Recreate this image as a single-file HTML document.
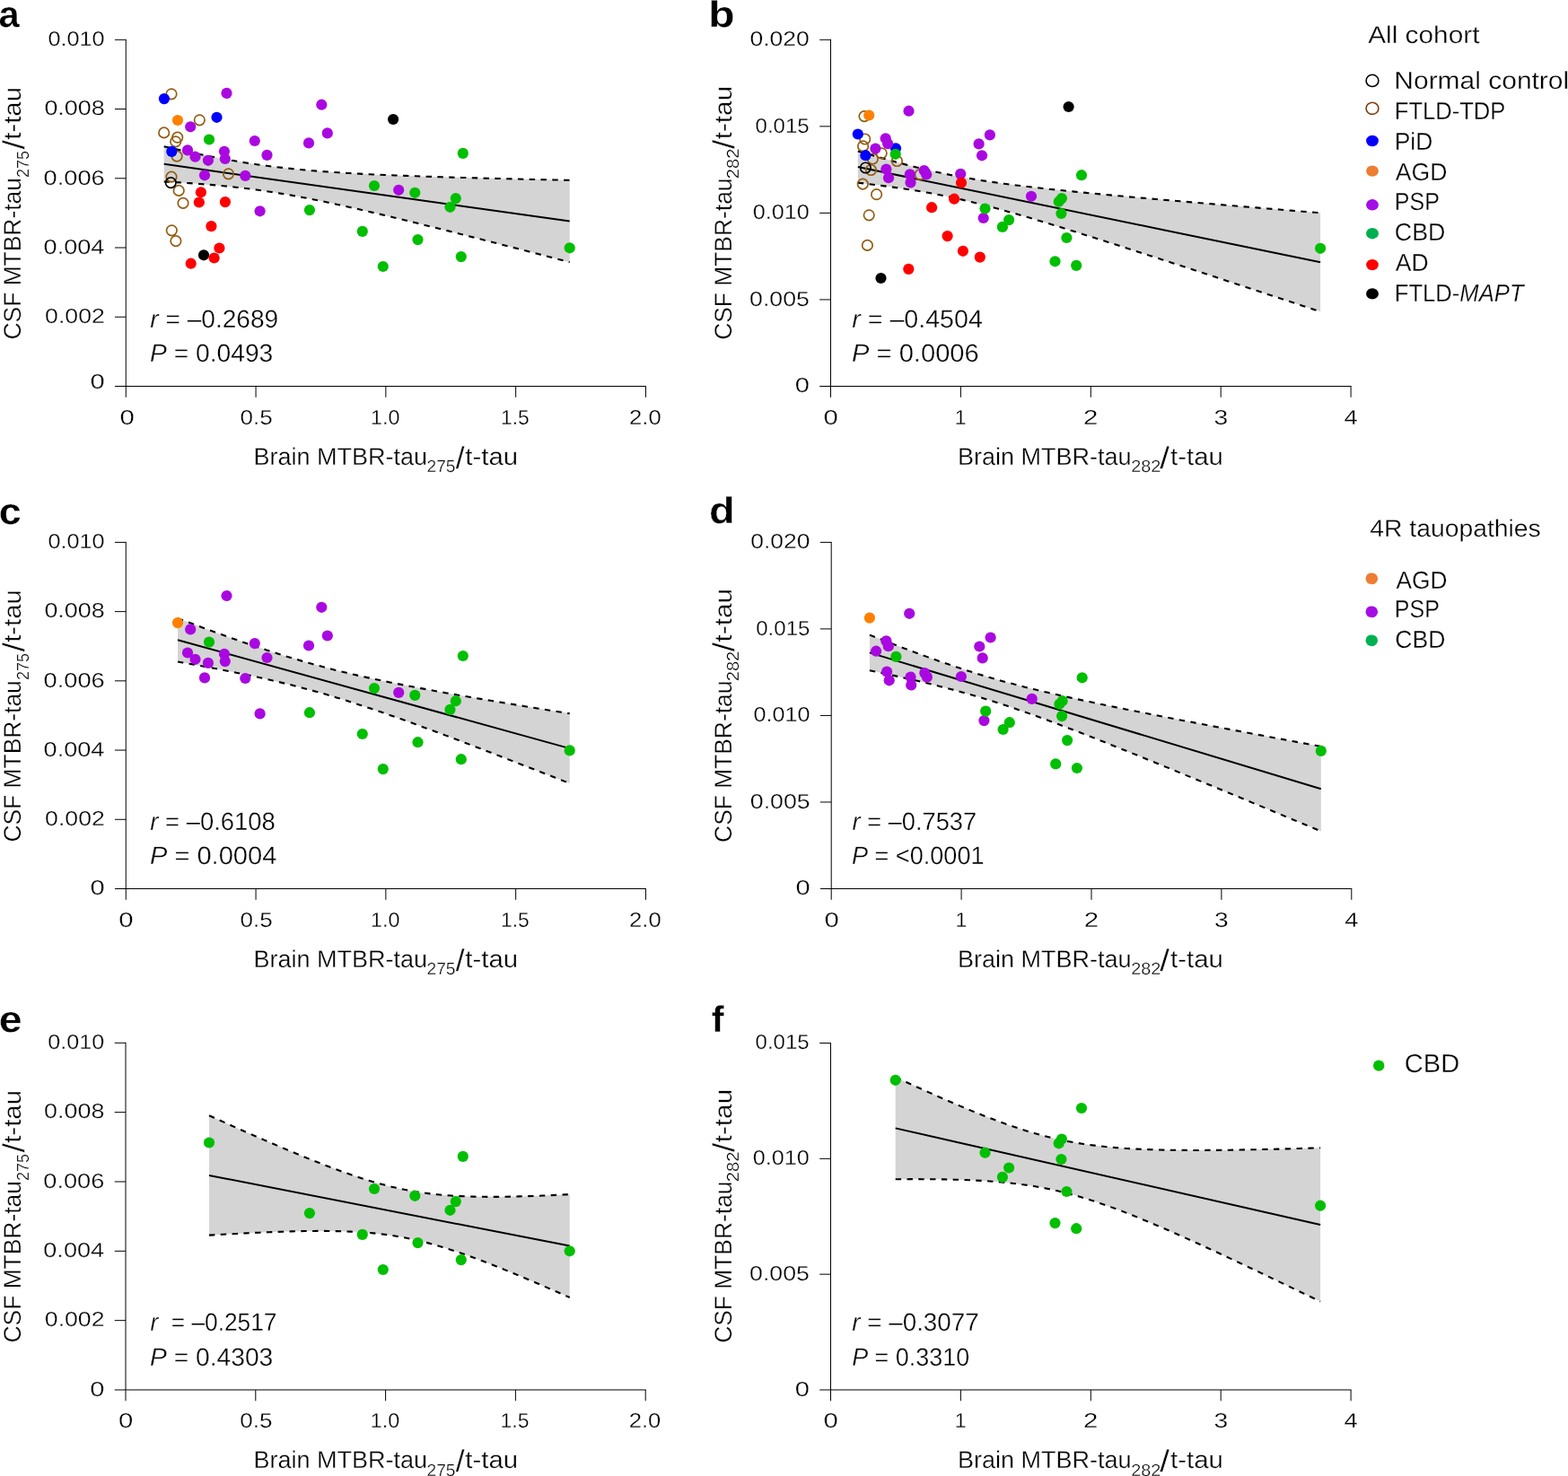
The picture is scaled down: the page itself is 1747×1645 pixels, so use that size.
<!DOCTYPE html>
<html><head><meta charset="utf-8"><title>Figure</title>
<style>html,body{margin:0;padding:0;background:#fff;overflow:hidden;}svg{display:block;}</style>
</head><body>
<svg width="1747" height="1645" viewBox="0 0 1747 1645">
<rect width="1747" height="1645" fill="#fff"/>
<line x1="127.95" y1="353.26" x2="140.25" y2="353.26" stroke="#000" stroke-width="1.0"/>
<line x1="127.95" y1="276.02" x2="140.25" y2="276.02" stroke="#000" stroke-width="1.0"/>
<line x1="127.95" y1="198.78" x2="140.25" y2="198.78" stroke="#000" stroke-width="1.0"/>
<line x1="127.95" y1="121.54" x2="140.25" y2="121.54" stroke="#000" stroke-width="1.0"/>
<line x1="127.95" y1="44.30" x2="140.25" y2="44.30" stroke="#000" stroke-width="1.0"/>
<line x1="285.05" y1="430.50" x2="285.05" y2="442.80" stroke="#000" stroke-width="1.0"/>
<line x1="429.85" y1="430.50" x2="429.85" y2="442.80" stroke="#000" stroke-width="1.0"/>
<line x1="574.65" y1="430.50" x2="574.65" y2="442.80" stroke="#000" stroke-width="1.0"/>
<line x1="719.45" y1="430.50" x2="719.45" y2="442.80" stroke="#000" stroke-width="1.0"/>
<line x1="140.25" y1="43.80" x2="140.25" y2="442.80" stroke="#000" stroke-width="1.0"/>
<line x1="127.95" y1="430.50" x2="719.90" y2="430.50" stroke="#000" stroke-width="1.05"/>
<line x1="913.20" y1="333.95" x2="925.50" y2="333.95" stroke="#000" stroke-width="1.0"/>
<line x1="913.20" y1="237.40" x2="925.50" y2="237.40" stroke="#000" stroke-width="1.0"/>
<line x1="913.20" y1="140.85" x2="925.50" y2="140.85" stroke="#000" stroke-width="1.0"/>
<line x1="913.20" y1="44.30" x2="925.50" y2="44.30" stroke="#000" stroke-width="1.0"/>
<line x1="1070.40" y1="430.50" x2="1070.40" y2="442.80" stroke="#000" stroke-width="1.0"/>
<line x1="1215.30" y1="430.50" x2="1215.30" y2="442.80" stroke="#000" stroke-width="1.0"/>
<line x1="1360.20" y1="430.50" x2="1360.20" y2="442.80" stroke="#000" stroke-width="1.0"/>
<line x1="1505.10" y1="430.50" x2="1505.10" y2="442.80" stroke="#000" stroke-width="1.0"/>
<line x1="925.50" y1="43.80" x2="925.50" y2="442.80" stroke="#000" stroke-width="1.0"/>
<line x1="913.20" y1="430.50" x2="1505.60" y2="430.50" stroke="#000" stroke-width="1.05"/>
<line x1="127.95" y1="913.28" x2="140.25" y2="913.28" stroke="#000" stroke-width="1.0"/>
<line x1="127.95" y1="836.06" x2="140.25" y2="836.06" stroke="#000" stroke-width="1.0"/>
<line x1="127.95" y1="758.84" x2="140.25" y2="758.84" stroke="#000" stroke-width="1.0"/>
<line x1="127.95" y1="681.62" x2="140.25" y2="681.62" stroke="#000" stroke-width="1.0"/>
<line x1="127.95" y1="604.40" x2="140.25" y2="604.40" stroke="#000" stroke-width="1.0"/>
<line x1="285.05" y1="990.50" x2="285.05" y2="1002.80" stroke="#000" stroke-width="1.0"/>
<line x1="429.85" y1="990.50" x2="429.85" y2="1002.80" stroke="#000" stroke-width="1.0"/>
<line x1="574.65" y1="990.50" x2="574.65" y2="1002.80" stroke="#000" stroke-width="1.0"/>
<line x1="719.45" y1="990.50" x2="719.45" y2="1002.80" stroke="#000" stroke-width="1.0"/>
<line x1="140.25" y1="603.90" x2="140.25" y2="1002.80" stroke="#000" stroke-width="1.0"/>
<line x1="127.95" y1="990.50" x2="719.90" y2="990.50" stroke="#000" stroke-width="1.05"/>
<line x1="913.90" y1="893.98" x2="926.20" y2="893.98" stroke="#000" stroke-width="1.0"/>
<line x1="913.90" y1="797.45" x2="926.20" y2="797.45" stroke="#000" stroke-width="1.0"/>
<line x1="913.90" y1="700.92" x2="926.20" y2="700.92" stroke="#000" stroke-width="1.0"/>
<line x1="913.90" y1="604.40" x2="926.20" y2="604.40" stroke="#000" stroke-width="1.0"/>
<line x1="1071.10" y1="990.50" x2="1071.10" y2="1002.80" stroke="#000" stroke-width="1.0"/>
<line x1="1216.00" y1="990.50" x2="1216.00" y2="1002.80" stroke="#000" stroke-width="1.0"/>
<line x1="1360.90" y1="990.50" x2="1360.90" y2="1002.80" stroke="#000" stroke-width="1.0"/>
<line x1="1505.80" y1="990.50" x2="1505.80" y2="1002.80" stroke="#000" stroke-width="1.0"/>
<line x1="926.20" y1="603.90" x2="926.20" y2="1002.80" stroke="#000" stroke-width="1.0"/>
<line x1="913.90" y1="990.50" x2="1506.20" y2="990.50" stroke="#000" stroke-width="1.05"/>
<line x1="127.70" y1="1471.66" x2="140.00" y2="1471.66" stroke="#000" stroke-width="1.0"/>
<line x1="127.70" y1="1394.32" x2="140.00" y2="1394.32" stroke="#000" stroke-width="1.0"/>
<line x1="127.70" y1="1316.98" x2="140.00" y2="1316.98" stroke="#000" stroke-width="1.0"/>
<line x1="127.70" y1="1239.64" x2="140.00" y2="1239.64" stroke="#000" stroke-width="1.0"/>
<line x1="127.70" y1="1162.30" x2="140.00" y2="1162.30" stroke="#000" stroke-width="1.0"/>
<line x1="284.80" y1="1549.00" x2="284.80" y2="1561.30" stroke="#000" stroke-width="1.0"/>
<line x1="429.60" y1="1549.00" x2="429.60" y2="1561.30" stroke="#000" stroke-width="1.0"/>
<line x1="574.40" y1="1549.00" x2="574.40" y2="1561.30" stroke="#000" stroke-width="1.0"/>
<line x1="719.20" y1="1549.00" x2="719.20" y2="1561.30" stroke="#000" stroke-width="1.0"/>
<line x1="140.00" y1="1161.80" x2="140.00" y2="1561.30" stroke="#000" stroke-width="1.0"/>
<line x1="127.70" y1="1549.00" x2="719.90" y2="1549.00" stroke="#000" stroke-width="1.05"/>
<line x1="913.20" y1="1420.17" x2="925.50" y2="1420.17" stroke="#000" stroke-width="1.0"/>
<line x1="913.20" y1="1291.33" x2="925.50" y2="1291.33" stroke="#000" stroke-width="1.0"/>
<line x1="913.20" y1="1162.50" x2="925.50" y2="1162.50" stroke="#000" stroke-width="1.0"/>
<line x1="1070.40" y1="1549.00" x2="1070.40" y2="1561.30" stroke="#000" stroke-width="1.0"/>
<line x1="1215.30" y1="1549.00" x2="1215.30" y2="1561.30" stroke="#000" stroke-width="1.0"/>
<line x1="1360.20" y1="1549.00" x2="1360.20" y2="1561.30" stroke="#000" stroke-width="1.0"/>
<line x1="1505.10" y1="1549.00" x2="1505.10" y2="1561.30" stroke="#000" stroke-width="1.0"/>
<line x1="925.50" y1="1162.00" x2="925.50" y2="1561.30" stroke="#000" stroke-width="1.0"/>
<line x1="913.20" y1="1549.00" x2="1505.60" y2="1549.00" stroke="#000" stroke-width="1.05"/>
<polygon points="182.70,163.29 188.42,164.59 194.14,165.87 199.86,167.14 205.59,168.38 211.31,169.61 217.03,170.82 222.75,172.00 228.47,173.17 234.19,174.31 239.92,175.42 245.64,176.50 251.36,177.56 257.08,178.58 262.80,179.57 268.52,180.53 274.24,181.45 279.97,182.34 285.69,183.19 291.41,184.00 297.13,184.78 302.85,185.52 308.57,186.22 314.29,186.89 320.02,187.53 325.74,188.13 331.46,188.70 337.18,189.24 342.90,189.76 348.62,190.24 354.35,190.70 360.07,191.13 365.79,191.55 371.51,191.94 377.23,192.31 382.95,192.67 388.67,193.01 394.40,193.33 400.12,193.64 405.84,193.93 411.56,194.21 417.28,194.48 423.00,194.74 428.73,194.99 434.45,195.23 440.17,195.47 445.89,195.69 451.61,195.91 457.33,196.12 463.05,196.32 468.78,196.52 474.50,196.71 480.22,196.90 485.94,197.08 491.66,197.26 497.38,197.44 503.11,197.61 508.83,197.77 514.55,197.93 520.27,198.09 525.99,198.25 531.71,198.40 537.43,198.55 543.16,198.70 548.88,198.85 554.60,198.99 560.32,199.13 566.04,199.27 571.76,199.41 577.48,199.54 583.21,199.68 588.93,199.81 594.65,199.94 600.37,200.07 606.09,200.20 611.81,200.32 617.54,200.45 623.26,200.57 628.98,200.69 634.70,200.81 634.70,292.18 628.98,290.69 623.26,289.20 617.54,287.71 611.81,286.22 606.09,284.74 600.37,283.25 594.65,281.77 588.93,280.29 583.21,278.81 577.48,277.33 571.76,275.86 566.04,274.39 560.32,272.91 554.60,271.44 548.88,269.98 543.16,268.51 537.43,267.05 531.71,265.59 525.99,264.13 520.27,262.68 514.55,261.22 508.83,259.78 503.11,258.33 497.38,256.89 491.66,255.45 485.94,254.02 480.22,252.59 474.50,251.17 468.78,249.75 463.05,248.34 457.33,246.93 451.61,245.53 445.89,244.14 440.17,242.75 434.45,241.37 428.73,240.00 423.00,238.64 417.28,237.29 411.56,235.95 405.84,234.62 400.12,233.30 394.40,232.00 388.67,230.71 382.95,229.44 377.23,228.18 371.51,226.94 365.79,225.73 360.07,224.53 354.35,223.35 348.62,222.20 342.90,221.07 337.18,219.98 331.46,218.91 325.74,217.87 320.02,216.86 314.29,215.88 308.57,214.94 302.85,214.03 297.13,213.16 291.41,212.33 285.69,211.53 279.97,210.77 274.24,210.05 268.52,209.36 262.80,208.71 257.08,208.09 251.36,207.50 245.64,206.94 239.92,206.42 234.19,205.92 228.47,205.44 222.75,205.00 217.03,204.57 211.31,204.17 205.59,203.78 199.86,203.42 194.14,203.07 188.42,202.74 182.70,202.43" fill="#d4d4d4"/>
<polyline points="182.70,163.29 188.42,164.59 194.14,165.87 199.86,167.14 205.59,168.38 211.31,169.61 217.03,170.82 222.75,172.00 228.47,173.17 234.19,174.31 239.92,175.42 245.64,176.50 251.36,177.56 257.08,178.58 262.80,179.57 268.52,180.53 274.24,181.45 279.97,182.34 285.69,183.19 291.41,184.00 297.13,184.78 302.85,185.52 308.57,186.22 314.29,186.89 320.02,187.53 325.74,188.13 331.46,188.70 337.18,189.24 342.90,189.76 348.62,190.24 354.35,190.70 360.07,191.13 365.79,191.55 371.51,191.94 377.23,192.31 382.95,192.67 388.67,193.01 394.40,193.33 400.12,193.64 405.84,193.93 411.56,194.21 417.28,194.48 423.00,194.74 428.73,194.99 434.45,195.23 440.17,195.47 445.89,195.69 451.61,195.91 457.33,196.12 463.05,196.32 468.78,196.52 474.50,196.71 480.22,196.90 485.94,197.08 491.66,197.26 497.38,197.44 503.11,197.61 508.83,197.77 514.55,197.93 520.27,198.09 525.99,198.25 531.71,198.40 537.43,198.55 543.16,198.70 548.88,198.85 554.60,198.99 560.32,199.13 566.04,199.27 571.76,199.41 577.48,199.54 583.21,199.68 588.93,199.81 594.65,199.94 600.37,200.07 606.09,200.20 611.81,200.32 617.54,200.45 623.26,200.57 628.98,200.69 634.70,200.81" fill="none" stroke="#000" stroke-width="2.1" stroke-dasharray="6.4 6.4"/>
<polyline points="182.70,202.43 188.42,202.74 194.14,203.07 199.86,203.42 205.59,203.78 211.31,204.17 217.03,204.57 222.75,205.00 228.47,205.44 234.19,205.92 239.92,206.42 245.64,206.94 251.36,207.50 257.08,208.09 262.80,208.71 268.52,209.36 274.24,210.05 279.97,210.77 285.69,211.53 291.41,212.33 297.13,213.16 302.85,214.03 308.57,214.94 314.29,215.88 320.02,216.86 325.74,217.87 331.46,218.91 337.18,219.98 342.90,221.07 348.62,222.20 354.35,223.35 360.07,224.53 365.79,225.73 371.51,226.94 377.23,228.18 382.95,229.44 388.67,230.71 394.40,232.00 400.12,233.30 405.84,234.62 411.56,235.95 417.28,237.29 423.00,238.64 428.73,240.00 434.45,241.37 440.17,242.75 445.89,244.14 451.61,245.53 457.33,246.93 463.05,248.34 468.78,249.75 474.50,251.17 480.22,252.59 485.94,254.02 491.66,255.45 497.38,256.89 503.11,258.33 508.83,259.78 514.55,261.22 520.27,262.68 525.99,264.13 531.71,265.59 537.43,267.05 543.16,268.51 548.88,269.98 554.60,271.44 560.32,272.91 566.04,274.39 571.76,275.86 577.48,277.33 583.21,278.81 588.93,280.29 594.65,281.77 600.37,283.25 606.09,284.74 611.81,286.22 617.54,287.71 623.26,289.20 628.98,290.69 634.70,292.18" fill="none" stroke="#000" stroke-width="2.1" stroke-dasharray="6.4 6.4"/>
<line x1="182.70" y1="182.86" x2="634.70" y2="246.49" stroke="#000" stroke-width="2.0"/>
<circle cx="191.0" cy="104.8" r="5.75" fill="none" stroke="#925c12" stroke-width="1.70"/>
<circle cx="222.3" cy="133.8" r="5.75" fill="none" stroke="#925c12" stroke-width="1.70"/>
<circle cx="182.7" cy="147.9" r="5.75" fill="none" stroke="#925c12" stroke-width="1.70"/>
<circle cx="197.7" cy="153.2" r="5.75" fill="none" stroke="#925c12" stroke-width="1.70"/>
<circle cx="195.7" cy="157.8" r="5.75" fill="none" stroke="#925c12" stroke-width="1.70"/>
<circle cx="197.1" cy="174.1" r="5.75" fill="none" stroke="#925c12" stroke-width="1.70"/>
<circle cx="191.0" cy="197.1" r="5.75" fill="none" stroke="#925c12" stroke-width="1.70"/>
<circle cx="254.5" cy="193.8" r="5.75" fill="none" stroke="#925c12" stroke-width="1.70"/>
<circle cx="199.2" cy="212.4" r="5.75" fill="none" stroke="#925c12" stroke-width="1.70"/>
<circle cx="204.0" cy="226.4" r="5.75" fill="none" stroke="#925c12" stroke-width="1.70"/>
<circle cx="191.3" cy="256.8" r="5.75" fill="none" stroke="#925c12" stroke-width="1.70"/>
<circle cx="195.9" cy="268.6" r="5.75" fill="none" stroke="#925c12" stroke-width="1.70"/>
<circle cx="190.3" cy="203.6" r="5.75" fill="none" stroke="#000000" stroke-width="1.70"/>
<circle cx="182.9" cy="110.1" r="6.10" fill="#0000ff"/>
<circle cx="241.5" cy="130.8" r="6.10" fill="#0000ff"/>
<circle cx="191.3" cy="168.9" r="6.10" fill="#0000ff"/>
<circle cx="198.0" cy="134.0" r="6.10" fill="#ff8000"/>
<circle cx="252.5" cy="103.9" r="6.10" fill="#aa08e0"/>
<circle cx="212.2" cy="141.3" r="6.10" fill="#aa08e0"/>
<circle cx="283.8" cy="157.0" r="6.10" fill="#aa08e0"/>
<circle cx="209.0" cy="167.4" r="6.10" fill="#aa08e0"/>
<circle cx="217.5" cy="174.7" r="6.10" fill="#aa08e0"/>
<circle cx="231.9" cy="178.8" r="6.10" fill="#aa08e0"/>
<circle cx="249.9" cy="168.8" r="6.10" fill="#aa08e0"/>
<circle cx="250.8" cy="177.0" r="6.10" fill="#aa08e0"/>
<circle cx="297.5" cy="172.9" r="6.10" fill="#aa08e0"/>
<circle cx="228.0" cy="195.3" r="6.10" fill="#aa08e0"/>
<circle cx="273.3" cy="195.9" r="6.10" fill="#aa08e0"/>
<circle cx="289.6" cy="235.3" r="6.10" fill="#aa08e0"/>
<circle cx="358.3" cy="116.7" r="6.10" fill="#aa08e0"/>
<circle cx="364.8" cy="148.4" r="6.10" fill="#aa08e0"/>
<circle cx="344.0" cy="159.4" r="6.10" fill="#aa08e0"/>
<circle cx="444.2" cy="211.8" r="6.10" fill="#aa08e0"/>
<circle cx="233.0" cy="155.5" r="6.10" fill="#00bf00"/>
<circle cx="417.0" cy="207.0" r="6.10" fill="#00bf00"/>
<circle cx="462.3" cy="214.8" r="6.10" fill="#00bf00"/>
<circle cx="344.9" cy="234.1" r="6.10" fill="#00bf00"/>
<circle cx="403.8" cy="257.9" r="6.10" fill="#00bf00"/>
<circle cx="426.8" cy="297.0" r="6.10" fill="#00bf00"/>
<circle cx="515.8" cy="170.9" r="6.10" fill="#00bf00"/>
<circle cx="507.8" cy="221.1" r="6.10" fill="#00bf00"/>
<circle cx="501.5" cy="230.8" r="6.10" fill="#00bf00"/>
<circle cx="465.5" cy="267.1" r="6.10" fill="#00bf00"/>
<circle cx="513.8" cy="286.1" r="6.10" fill="#00bf00"/>
<circle cx="634.7" cy="276.3" r="6.10" fill="#00bf00"/>
<circle cx="438.1" cy="133.0" r="6.10" fill="#000000"/>
<circle cx="227.0" cy="284.3" r="6.10" fill="#000000"/>
<circle cx="223.9" cy="214.3" r="6.10" fill="#ff0000"/>
<circle cx="221.8" cy="225.5" r="6.10" fill="#ff0000"/>
<circle cx="250.9" cy="225.1" r="6.10" fill="#ff0000"/>
<circle cx="235.4" cy="252.1" r="6.10" fill="#ff0000"/>
<circle cx="244.4" cy="276.5" r="6.10" fill="#ff0000"/>
<circle cx="238.6" cy="287.5" r="6.10" fill="#ff0000"/>
<circle cx="212.7" cy="293.7" r="6.10" fill="#ff0000"/>
<polygon points="955.80,168.42 962.32,170.35 968.85,172.26 975.37,174.14 981.89,176.00 988.41,177.83 994.94,179.63 1001.46,181.40 1007.98,183.12 1014.51,184.80 1021.03,186.44 1027.55,188.03 1034.07,189.57 1040.60,191.05 1047.12,192.48 1053.64,193.85 1060.16,195.17 1066.69,196.43 1073.21,197.63 1079.73,198.78 1086.26,199.88 1092.78,200.94 1099.30,201.94 1105.82,202.91 1112.35,203.84 1118.87,204.73 1125.39,205.59 1131.92,206.42 1138.44,207.22 1144.96,208.00 1151.48,208.76 1158.01,209.50 1164.53,210.22 1171.05,210.92 1177.57,211.61 1184.10,212.29 1190.62,212.95 1197.14,213.61 1203.67,214.25 1210.19,214.89 1216.71,215.51 1223.23,216.13 1229.76,216.75 1236.28,217.35 1242.80,217.96 1249.33,218.55 1255.85,219.14 1262.37,219.73 1268.89,220.31 1275.42,220.89 1281.94,221.46 1288.46,222.04 1294.98,222.60 1301.51,223.17 1308.03,223.73 1314.55,224.29 1321.08,224.85 1327.60,225.41 1334.12,225.96 1340.64,226.51 1347.17,227.06 1353.69,227.61 1360.21,228.16 1366.74,228.70 1373.26,229.24 1379.78,229.79 1386.30,230.33 1392.83,230.87 1399.35,231.41 1405.87,231.94 1412.39,232.48 1418.92,233.02 1425.44,233.55 1431.96,234.08 1438.49,234.62 1445.01,235.15 1451.53,235.68 1458.05,236.21 1464.58,236.74 1471.10,237.27 1471.10,347.37 1464.58,345.21 1458.05,343.05 1451.53,340.89 1445.01,338.73 1438.49,336.57 1431.96,334.41 1425.44,332.25 1418.92,330.10 1412.39,327.94 1405.87,325.79 1399.35,323.64 1392.83,321.48 1386.30,319.33 1379.78,317.18 1373.26,315.04 1366.74,312.89 1360.21,310.74 1353.69,308.60 1347.17,306.46 1340.64,304.32 1334.12,302.18 1327.60,300.04 1321.08,297.91 1314.55,295.77 1308.03,293.64 1301.51,291.52 1294.98,289.39 1288.46,287.27 1281.94,285.15 1275.42,283.03 1268.89,280.92 1262.37,278.81 1255.85,276.71 1249.33,274.61 1242.80,272.51 1236.28,270.43 1229.76,268.34 1223.23,266.26 1216.71,264.19 1210.19,262.13 1203.67,260.08 1197.14,258.03 1190.62,255.99 1184.10,253.97 1177.57,251.96 1171.05,249.95 1164.53,247.97 1158.01,246.00 1151.48,244.05 1144.96,242.11 1138.44,240.20 1131.92,238.32 1125.39,236.46 1118.87,234.62 1112.35,232.83 1105.82,231.06 1099.30,229.34 1092.78,227.65 1086.26,226.02 1079.73,224.42 1073.21,222.89 1066.69,221.40 1060.16,219.97 1053.64,218.60 1047.12,217.28 1040.60,216.02 1034.07,214.81 1027.55,213.66 1021.03,212.56 1014.51,211.50 1007.98,210.49 1001.46,209.53 994.94,208.60 988.41,207.71 981.89,206.85 975.37,206.02 968.85,205.21 962.32,204.43 955.80,203.67" fill="#d4d4d4"/>
<polyline points="955.80,168.42 962.32,170.35 968.85,172.26 975.37,174.14 981.89,176.00 988.41,177.83 994.94,179.63 1001.46,181.40 1007.98,183.12 1014.51,184.80 1021.03,186.44 1027.55,188.03 1034.07,189.57 1040.60,191.05 1047.12,192.48 1053.64,193.85 1060.16,195.17 1066.69,196.43 1073.21,197.63 1079.73,198.78 1086.26,199.88 1092.78,200.94 1099.30,201.94 1105.82,202.91 1112.35,203.84 1118.87,204.73 1125.39,205.59 1131.92,206.42 1138.44,207.22 1144.96,208.00 1151.48,208.76 1158.01,209.50 1164.53,210.22 1171.05,210.92 1177.57,211.61 1184.10,212.29 1190.62,212.95 1197.14,213.61 1203.67,214.25 1210.19,214.89 1216.71,215.51 1223.23,216.13 1229.76,216.75 1236.28,217.35 1242.80,217.96 1249.33,218.55 1255.85,219.14 1262.37,219.73 1268.89,220.31 1275.42,220.89 1281.94,221.46 1288.46,222.04 1294.98,222.60 1301.51,223.17 1308.03,223.73 1314.55,224.29 1321.08,224.85 1327.60,225.41 1334.12,225.96 1340.64,226.51 1347.17,227.06 1353.69,227.61 1360.21,228.16 1366.74,228.70 1373.26,229.24 1379.78,229.79 1386.30,230.33 1392.83,230.87 1399.35,231.41 1405.87,231.94 1412.39,232.48 1418.92,233.02 1425.44,233.55 1431.96,234.08 1438.49,234.62 1445.01,235.15 1451.53,235.68 1458.05,236.21 1464.58,236.74 1471.10,237.27" fill="none" stroke="#000" stroke-width="2.1" stroke-dasharray="6.4 6.4"/>
<polyline points="955.80,203.67 962.32,204.43 968.85,205.21 975.37,206.02 981.89,206.85 988.41,207.71 994.94,208.60 1001.46,209.53 1007.98,210.49 1014.51,211.50 1021.03,212.56 1027.55,213.66 1034.07,214.81 1040.60,216.02 1047.12,217.28 1053.64,218.60 1060.16,219.97 1066.69,221.40 1073.21,222.89 1079.73,224.42 1086.26,226.02 1092.78,227.65 1099.30,229.34 1105.82,231.06 1112.35,232.83 1118.87,234.62 1125.39,236.46 1131.92,238.32 1138.44,240.20 1144.96,242.11 1151.48,244.05 1158.01,246.00 1164.53,247.97 1171.05,249.95 1177.57,251.96 1184.10,253.97 1190.62,255.99 1197.14,258.03 1203.67,260.08 1210.19,262.13 1216.71,264.19 1223.23,266.26 1229.76,268.34 1236.28,270.43 1242.80,272.51 1249.33,274.61 1255.85,276.71 1262.37,278.81 1268.89,280.92 1275.42,283.03 1281.94,285.15 1288.46,287.27 1294.98,289.39 1301.51,291.52 1308.03,293.64 1314.55,295.77 1321.08,297.91 1327.60,300.04 1334.12,302.18 1340.64,304.32 1347.17,306.46 1353.69,308.60 1360.21,310.74 1366.74,312.89 1373.26,315.04 1379.78,317.18 1386.30,319.33 1392.83,321.48 1399.35,323.64 1405.87,325.79 1412.39,327.94 1418.92,330.10 1425.44,332.25 1431.96,334.41 1438.49,336.57 1445.01,338.73 1451.53,340.89 1458.05,343.05 1464.58,345.21 1471.10,347.37" fill="none" stroke="#000" stroke-width="2.1" stroke-dasharray="6.4 6.4"/>
<line x1="955.80" y1="186.04" x2="1471.10" y2="292.32" stroke="#000" stroke-width="2.0"/>
<circle cx="963.0" cy="129.6" r="5.75" fill="none" stroke="#925c12" stroke-width="1.70"/>
<circle cx="963.7" cy="155.0" r="5.75" fill="none" stroke="#925c12" stroke-width="1.70"/>
<circle cx="961.6" cy="162.9" r="5.75" fill="none" stroke="#925c12" stroke-width="1.70"/>
<circle cx="982.2" cy="170.8" r="5.75" fill="none" stroke="#925c12" stroke-width="1.70"/>
<circle cx="972.3" cy="177.0" r="5.75" fill="none" stroke="#925c12" stroke-width="1.70"/>
<circle cx="999.4" cy="179.5" r="5.75" fill="none" stroke="#925c12" stroke-width="1.70"/>
<circle cx="970.4" cy="189.5" r="5.75" fill="none" stroke="#925c12" stroke-width="1.70"/>
<circle cx="961.3" cy="205.1" r="5.75" fill="none" stroke="#925c12" stroke-width="1.70"/>
<circle cx="976.6" cy="216.7" r="5.75" fill="none" stroke="#925c12" stroke-width="1.70"/>
<circle cx="968.2" cy="239.8" r="5.75" fill="none" stroke="#925c12" stroke-width="1.70"/>
<circle cx="966.4" cy="273.4" r="5.75" fill="none" stroke="#925c12" stroke-width="1.70"/>
<circle cx="1025.2" cy="194.5" r="5.75" fill="none" stroke="#925c12" stroke-width="1.70"/>
<circle cx="964.4" cy="187.0" r="5.75" fill="none" stroke="#000000" stroke-width="1.70"/>
<circle cx="955.8" cy="149.5" r="6.10" fill="#0000ff"/>
<circle cx="998.0" cy="165.3" r="6.10" fill="#0000ff"/>
<circle cx="964.4" cy="173.2" r="6.10" fill="#0000ff"/>
<circle cx="968.2" cy="128.5" r="6.10" fill="#ff8000"/>
<circle cx="1012.5" cy="123.7" r="6.10" fill="#aa08e0"/>
<circle cx="986.7" cy="154.3" r="6.10" fill="#aa08e0"/>
<circle cx="989.1" cy="160.1" r="6.10" fill="#aa08e0"/>
<circle cx="975.4" cy="165.6" r="6.10" fill="#aa08e0"/>
<circle cx="987.4" cy="188.5" r="6.10" fill="#aa08e0"/>
<circle cx="990.0" cy="198.2" r="6.10" fill="#aa08e0"/>
<circle cx="1013.8" cy="194.4" r="6.10" fill="#aa08e0"/>
<circle cx="1014.5" cy="203.4" r="6.10" fill="#aa08e0"/>
<circle cx="1029.6" cy="190.0" r="6.10" fill="#aa08e0"/>
<circle cx="1032.2" cy="194.5" r="6.10" fill="#aa08e0"/>
<circle cx="1102.9" cy="150.4" r="6.10" fill="#aa08e0"/>
<circle cx="1090.6" cy="160.4" r="6.10" fill="#aa08e0"/>
<circle cx="1094.0" cy="173.3" r="6.10" fill="#aa08e0"/>
<circle cx="1070.2" cy="193.9" r="6.10" fill="#aa08e0"/>
<circle cx="1149.0" cy="218.8" r="6.10" fill="#aa08e0"/>
<circle cx="1095.7" cy="243.0" r="6.10" fill="#aa08e0"/>
<circle cx="997.7" cy="171.8" r="6.10" fill="#00bf00"/>
<circle cx="1097.5" cy="232.5" r="6.10" fill="#00bf00"/>
<circle cx="1124.1" cy="245.1" r="6.10" fill="#00bf00"/>
<circle cx="1116.9" cy="252.9" r="6.10" fill="#00bf00"/>
<circle cx="1182.9" cy="221.1" r="6.10" fill="#00bf00"/>
<circle cx="1179.7" cy="224.7" r="6.10" fill="#00bf00"/>
<circle cx="1182.4" cy="238.0" r="6.10" fill="#00bf00"/>
<circle cx="1188.4" cy="265.0" r="6.10" fill="#00bf00"/>
<circle cx="1175.5" cy="291.3" r="6.10" fill="#00bf00"/>
<circle cx="1199.2" cy="295.9" r="6.10" fill="#00bf00"/>
<circle cx="1205.0" cy="195.2" r="6.10" fill="#00bf00"/>
<circle cx="1471.1" cy="276.8" r="6.10" fill="#00bf00"/>
<circle cx="1190.6" cy="119.0" r="6.10" fill="#000000"/>
<circle cx="981.5" cy="310.0" r="6.10" fill="#000000"/>
<circle cx="1071.0" cy="203.7" r="6.10" fill="#ff0000"/>
<circle cx="1063.1" cy="221.7" r="6.10" fill="#ff0000"/>
<circle cx="1038.1" cy="231.2" r="6.10" fill="#ff0000"/>
<circle cx="1055.6" cy="263.1" r="6.10" fill="#ff0000"/>
<circle cx="1072.9" cy="279.8" r="6.10" fill="#ff0000"/>
<circle cx="1091.8" cy="286.6" r="6.10" fill="#ff0000"/>
<circle cx="1012.3" cy="299.9" r="6.10" fill="#ff0000"/>
<polygon points="198.00,689.11 203.53,691.19 209.06,693.26 214.58,695.32 220.11,697.37 225.64,699.41 231.17,701.44 236.69,703.46 242.22,705.47 247.75,707.46 253.28,709.44 258.81,711.40 264.33,713.35 269.86,715.28 275.39,717.19 280.92,719.08 286.45,720.96 291.97,722.80 297.50,724.63 303.03,726.43 308.56,728.20 314.08,729.94 319.61,731.66 325.14,733.35 330.67,735.00 336.20,736.63 341.72,738.22 347.25,739.78 352.78,741.30 358.31,742.80 363.84,744.26 369.36,745.69 374.89,747.09 380.42,748.45 385.95,749.79 391.47,751.10 397.00,752.38 402.53,753.64 408.06,754.87 413.59,756.07 419.11,757.26 424.64,758.42 430.17,759.57 435.70,760.69 441.23,761.80 446.75,762.90 452.28,763.97 457.81,765.04 463.34,766.09 468.86,767.13 474.39,768.15 479.92,769.17 485.45,770.18 490.98,771.18 496.50,772.17 502.03,773.15 507.56,774.12 513.09,775.09 518.62,776.05 524.14,777.00 529.67,777.95 535.20,778.90 540.73,779.84 546.25,780.77 551.78,781.70 557.31,782.62 562.84,783.54 568.37,784.46 573.89,785.38 579.42,786.29 584.95,787.20 590.48,788.10 596.01,789.00 601.53,789.90 607.06,790.80 612.59,791.69 618.12,792.59 623.64,793.48 629.17,794.37 634.70,795.25 634.70,873.06 629.17,870.89 623.64,868.71 618.12,866.54 612.59,864.38 607.06,862.21 601.53,860.05 596.01,857.89 590.48,855.73 584.95,853.57 579.42,851.42 573.89,849.27 568.37,847.12 562.84,844.98 557.31,842.84 551.78,840.71 546.25,838.58 540.73,836.45 535.20,834.33 529.67,832.21 524.14,830.10 518.62,827.99 513.09,825.89 507.56,823.80 502.03,821.71 496.50,819.63 490.98,817.56 485.45,815.50 479.92,813.45 474.39,811.40 468.86,809.37 463.34,807.35 457.81,805.34 452.28,803.34 446.75,801.36 441.23,799.39 435.70,797.44 430.17,795.51 424.64,793.59 419.11,791.70 413.59,789.82 408.06,787.97 402.53,786.14 397.00,784.33 391.47,782.55 385.95,780.80 380.42,779.08 374.89,777.39 369.36,775.72 363.84,774.09 358.31,772.49 352.78,770.93 347.25,769.39 341.72,767.89 336.20,766.42 330.67,764.99 325.14,763.58 319.61,762.21 314.08,760.86 308.56,759.55 303.03,758.26 297.50,757.00 291.97,755.76 286.45,754.55 280.92,753.36 275.39,752.19 269.86,751.04 264.33,749.91 258.81,748.80 253.28,747.70 247.75,746.62 242.22,745.56 236.69,744.50 231.17,743.46 225.64,742.43 220.11,741.41 214.58,740.40 209.06,739.40 203.53,738.41 198.00,737.43" fill="#d4d4d4"/>
<polyline points="198.00,689.11 203.53,691.19 209.06,693.26 214.58,695.32 220.11,697.37 225.64,699.41 231.17,701.44 236.69,703.46 242.22,705.47 247.75,707.46 253.28,709.44 258.81,711.40 264.33,713.35 269.86,715.28 275.39,717.19 280.92,719.08 286.45,720.96 291.97,722.80 297.50,724.63 303.03,726.43 308.56,728.20 314.08,729.94 319.61,731.66 325.14,733.35 330.67,735.00 336.20,736.63 341.72,738.22 347.25,739.78 352.78,741.30 358.31,742.80 363.84,744.26 369.36,745.69 374.89,747.09 380.42,748.45 385.95,749.79 391.47,751.10 397.00,752.38 402.53,753.64 408.06,754.87 413.59,756.07 419.11,757.26 424.64,758.42 430.17,759.57 435.70,760.69 441.23,761.80 446.75,762.90 452.28,763.97 457.81,765.04 463.34,766.09 468.86,767.13 474.39,768.15 479.92,769.17 485.45,770.18 490.98,771.18 496.50,772.17 502.03,773.15 507.56,774.12 513.09,775.09 518.62,776.05 524.14,777.00 529.67,777.95 535.20,778.90 540.73,779.84 546.25,780.77 551.78,781.70 557.31,782.62 562.84,783.54 568.37,784.46 573.89,785.38 579.42,786.29 584.95,787.20 590.48,788.10 596.01,789.00 601.53,789.90 607.06,790.80 612.59,791.69 618.12,792.59 623.64,793.48 629.17,794.37 634.70,795.25" fill="none" stroke="#000" stroke-width="2.1" stroke-dasharray="6.4 6.4"/>
<polyline points="198.00,737.43 203.53,738.41 209.06,739.40 214.58,740.40 220.11,741.41 225.64,742.43 231.17,743.46 236.69,744.50 242.22,745.56 247.75,746.62 253.28,747.70 258.81,748.80 264.33,749.91 269.86,751.04 275.39,752.19 280.92,753.36 286.45,754.55 291.97,755.76 297.50,757.00 303.03,758.26 308.56,759.55 314.08,760.86 319.61,762.21 325.14,763.58 330.67,764.99 336.20,766.42 341.72,767.89 347.25,769.39 352.78,770.93 358.31,772.49 363.84,774.09 369.36,775.72 374.89,777.39 380.42,779.08 385.95,780.80 391.47,782.55 397.00,784.33 402.53,786.14 408.06,787.97 413.59,789.82 419.11,791.70 424.64,793.59 430.17,795.51 435.70,797.44 441.23,799.39 446.75,801.36 452.28,803.34 457.81,805.34 463.34,807.35 468.86,809.37 474.39,811.40 479.92,813.45 485.45,815.50 490.98,817.56 496.50,819.63 502.03,821.71 507.56,823.80 513.09,825.89 518.62,827.99 524.14,830.10 529.67,832.21 535.20,834.33 540.73,836.45 546.25,838.58 551.78,840.71 557.31,842.84 562.84,844.98 568.37,847.12 573.89,849.27 579.42,851.42 584.95,853.57 590.48,855.73 596.01,857.89 601.53,860.05 607.06,862.21 612.59,864.38 618.12,866.54 623.64,868.71 629.17,870.89 634.70,873.06" fill="none" stroke="#000" stroke-width="2.1" stroke-dasharray="6.4 6.4"/>
<line x1="198.00" y1="713.27" x2="634.70" y2="834.16" stroke="#000" stroke-width="2.0"/>
<circle cx="198.0" cy="694.1" r="6.10" fill="#ff8000"/>
<circle cx="252.5" cy="664.0" r="6.10" fill="#aa08e0"/>
<circle cx="212.2" cy="701.4" r="6.10" fill="#aa08e0"/>
<circle cx="283.8" cy="717.1" r="6.10" fill="#aa08e0"/>
<circle cx="209.0" cy="727.5" r="6.10" fill="#aa08e0"/>
<circle cx="217.5" cy="734.8" r="6.10" fill="#aa08e0"/>
<circle cx="231.9" cy="738.9" r="6.10" fill="#aa08e0"/>
<circle cx="249.9" cy="728.9" r="6.10" fill="#aa08e0"/>
<circle cx="250.8" cy="737.1" r="6.10" fill="#aa08e0"/>
<circle cx="297.5" cy="733.0" r="6.10" fill="#aa08e0"/>
<circle cx="228.0" cy="755.4" r="6.10" fill="#aa08e0"/>
<circle cx="273.3" cy="756.0" r="6.10" fill="#aa08e0"/>
<circle cx="289.6" cy="795.4" r="6.10" fill="#aa08e0"/>
<circle cx="358.3" cy="676.8" r="6.10" fill="#aa08e0"/>
<circle cx="364.8" cy="708.5" r="6.10" fill="#aa08e0"/>
<circle cx="344.0" cy="719.5" r="6.10" fill="#aa08e0"/>
<circle cx="444.2" cy="771.9" r="6.10" fill="#aa08e0"/>
<circle cx="233.0" cy="715.6" r="6.10" fill="#00bf00"/>
<circle cx="417.0" cy="767.1" r="6.10" fill="#00bf00"/>
<circle cx="462.3" cy="774.9" r="6.10" fill="#00bf00"/>
<circle cx="344.9" cy="794.2" r="6.10" fill="#00bf00"/>
<circle cx="403.8" cy="818.0" r="6.10" fill="#00bf00"/>
<circle cx="426.8" cy="857.1" r="6.10" fill="#00bf00"/>
<circle cx="515.8" cy="731.0" r="6.10" fill="#00bf00"/>
<circle cx="507.8" cy="781.2" r="6.10" fill="#00bf00"/>
<circle cx="501.5" cy="790.9" r="6.10" fill="#00bf00"/>
<circle cx="465.5" cy="827.2" r="6.10" fill="#00bf00"/>
<circle cx="513.8" cy="846.2" r="6.10" fill="#00bf00"/>
<circle cx="634.7" cy="836.4" r="6.10" fill="#00bf00"/>
<polygon points="968.90,707.61 975.27,710.11 981.63,712.60 988.00,715.08 994.36,717.54 1000.73,719.98 1007.09,722.40 1013.46,724.81 1019.83,727.19 1026.19,729.54 1032.56,731.87 1038.92,734.16 1045.29,736.43 1051.66,738.66 1058.02,740.85 1064.39,743.00 1070.75,745.12 1077.12,747.19 1083.48,749.21 1089.85,751.19 1096.22,753.12 1102.58,755.01 1108.95,756.85 1115.31,758.65 1121.68,760.40 1128.05,762.11 1134.41,763.77 1140.78,765.41 1147.14,767.00 1153.51,768.56 1159.87,770.09 1166.24,771.60 1172.61,773.07 1178.97,774.52 1185.34,775.95 1191.70,777.36 1198.07,778.75 1204.44,780.13 1210.80,781.49 1217.17,782.83 1223.53,784.17 1229.90,785.49 1236.26,786.80 1242.63,788.10 1249.00,789.39 1255.36,790.67 1261.73,791.94 1268.09,793.21 1274.46,794.47 1280.83,795.73 1287.19,796.98 1293.56,798.22 1299.92,799.46 1306.29,800.70 1312.65,801.93 1319.02,803.16 1325.39,804.38 1331.75,805.60 1338.12,806.82 1344.48,808.03 1350.85,809.25 1357.22,810.46 1363.58,811.66 1369.95,812.87 1376.31,814.07 1382.68,815.27 1389.04,816.47 1395.41,817.67 1401.78,818.86 1408.14,820.06 1414.51,821.25 1420.87,822.44 1427.24,823.63 1433.61,824.82 1439.97,826.01 1446.34,827.19 1452.70,828.38 1459.07,829.56 1465.43,830.74 1471.80,831.93 1471.80,926.46 1465.43,923.80 1459.07,921.14 1452.70,918.48 1446.34,915.82 1439.97,913.16 1433.61,910.51 1427.24,907.85 1420.87,905.20 1414.51,902.54 1408.14,899.89 1401.78,897.24 1395.41,894.60 1389.04,891.95 1382.68,889.31 1376.31,886.66 1369.95,884.02 1363.58,881.38 1357.22,878.75 1350.85,876.11 1344.48,873.48 1338.12,870.86 1331.75,868.23 1325.39,865.61 1319.02,862.99 1312.65,860.37 1306.29,857.76 1299.92,855.15 1293.56,852.55 1287.19,849.95 1280.83,847.36 1274.46,844.77 1268.09,842.19 1261.73,839.61 1255.36,837.04 1249.00,834.48 1242.63,831.93 1236.26,829.39 1229.90,826.85 1223.53,824.33 1217.17,821.82 1210.80,819.32 1204.44,816.84 1198.07,814.37 1191.70,811.92 1185.34,809.48 1178.97,807.07 1172.61,804.68 1166.24,802.31 1159.87,799.97 1153.51,797.66 1147.14,795.38 1140.78,793.13 1134.41,790.91 1128.05,788.74 1121.68,786.61 1115.31,784.51 1108.95,782.47 1102.58,780.46 1096.22,778.51 1089.85,776.60 1083.48,774.73 1077.12,772.91 1070.75,771.14 1064.39,769.41 1058.02,767.72 1051.66,766.07 1045.29,764.46 1038.92,762.88 1032.56,761.33 1026.19,759.81 1019.83,758.32 1013.46,756.86 1007.09,755.42 1000.73,754.00 994.36,752.60 988.00,751.22 981.63,749.85 975.27,748.50 968.90,747.16" fill="#d4d4d4"/>
<polyline points="968.90,707.61 975.27,710.11 981.63,712.60 988.00,715.08 994.36,717.54 1000.73,719.98 1007.09,722.40 1013.46,724.81 1019.83,727.19 1026.19,729.54 1032.56,731.87 1038.92,734.16 1045.29,736.43 1051.66,738.66 1058.02,740.85 1064.39,743.00 1070.75,745.12 1077.12,747.19 1083.48,749.21 1089.85,751.19 1096.22,753.12 1102.58,755.01 1108.95,756.85 1115.31,758.65 1121.68,760.40 1128.05,762.11 1134.41,763.77 1140.78,765.41 1147.14,767.00 1153.51,768.56 1159.87,770.09 1166.24,771.60 1172.61,773.07 1178.97,774.52 1185.34,775.95 1191.70,777.36 1198.07,778.75 1204.44,780.13 1210.80,781.49 1217.17,782.83 1223.53,784.17 1229.90,785.49 1236.26,786.80 1242.63,788.10 1249.00,789.39 1255.36,790.67 1261.73,791.94 1268.09,793.21 1274.46,794.47 1280.83,795.73 1287.19,796.98 1293.56,798.22 1299.92,799.46 1306.29,800.70 1312.65,801.93 1319.02,803.16 1325.39,804.38 1331.75,805.60 1338.12,806.82 1344.48,808.03 1350.85,809.25 1357.22,810.46 1363.58,811.66 1369.95,812.87 1376.31,814.07 1382.68,815.27 1389.04,816.47 1395.41,817.67 1401.78,818.86 1408.14,820.06 1414.51,821.25 1420.87,822.44 1427.24,823.63 1433.61,824.82 1439.97,826.01 1446.34,827.19 1452.70,828.38 1459.07,829.56 1465.43,830.74 1471.80,831.93" fill="none" stroke="#000" stroke-width="2.1" stroke-dasharray="6.4 6.4"/>
<polyline points="968.90,747.16 975.27,748.50 981.63,749.85 988.00,751.22 994.36,752.60 1000.73,754.00 1007.09,755.42 1013.46,756.86 1019.83,758.32 1026.19,759.81 1032.56,761.33 1038.92,762.88 1045.29,764.46 1051.66,766.07 1058.02,767.72 1064.39,769.41 1070.75,771.14 1077.12,772.91 1083.48,774.73 1089.85,776.60 1096.22,778.51 1102.58,780.46 1108.95,782.47 1115.31,784.51 1121.68,786.61 1128.05,788.74 1134.41,790.91 1140.78,793.13 1147.14,795.38 1153.51,797.66 1159.87,799.97 1166.24,802.31 1172.61,804.68 1178.97,807.07 1185.34,809.48 1191.70,811.92 1198.07,814.37 1204.44,816.84 1210.80,819.32 1217.17,821.82 1223.53,824.33 1229.90,826.85 1236.26,829.39 1242.63,831.93 1249.00,834.48 1255.36,837.04 1261.73,839.61 1268.09,842.19 1274.46,844.77 1280.83,847.36 1287.19,849.95 1293.56,852.55 1299.92,855.15 1306.29,857.76 1312.65,860.37 1319.02,862.99 1325.39,865.61 1331.75,868.23 1338.12,870.86 1344.48,873.48 1350.85,876.11 1357.22,878.75 1363.58,881.38 1369.95,884.02 1376.31,886.66 1382.68,889.31 1389.04,891.95 1395.41,894.60 1401.78,897.24 1408.14,899.89 1414.51,902.54 1420.87,905.20 1427.24,907.85 1433.61,910.51 1439.97,913.16 1446.34,915.82 1452.70,918.48 1459.07,921.14 1465.43,923.80 1471.80,926.46" fill="none" stroke="#000" stroke-width="2.1" stroke-dasharray="6.4 6.4"/>
<line x1="968.90" y1="727.38" x2="1471.80" y2="879.19" stroke="#000" stroke-width="2.0"/>
<circle cx="968.9" cy="688.6" r="6.10" fill="#ff8000"/>
<circle cx="1013.2" cy="683.8" r="6.10" fill="#aa08e0"/>
<circle cx="987.4" cy="714.4" r="6.10" fill="#aa08e0"/>
<circle cx="989.8" cy="720.2" r="6.10" fill="#aa08e0"/>
<circle cx="976.1" cy="725.7" r="6.10" fill="#aa08e0"/>
<circle cx="988.1" cy="748.6" r="6.10" fill="#aa08e0"/>
<circle cx="990.7" cy="758.3" r="6.10" fill="#aa08e0"/>
<circle cx="1014.5" cy="754.5" r="6.10" fill="#aa08e0"/>
<circle cx="1015.2" cy="763.5" r="6.10" fill="#aa08e0"/>
<circle cx="1030.3" cy="750.1" r="6.10" fill="#aa08e0"/>
<circle cx="1032.9" cy="754.6" r="6.10" fill="#aa08e0"/>
<circle cx="1103.6" cy="710.5" r="6.10" fill="#aa08e0"/>
<circle cx="1091.3" cy="720.5" r="6.10" fill="#aa08e0"/>
<circle cx="1094.7" cy="733.4" r="6.10" fill="#aa08e0"/>
<circle cx="1070.9" cy="754.0" r="6.10" fill="#aa08e0"/>
<circle cx="1149.7" cy="778.9" r="6.10" fill="#aa08e0"/>
<circle cx="1096.4" cy="803.1" r="6.10" fill="#aa08e0"/>
<circle cx="998.4" cy="731.9" r="6.10" fill="#00bf00"/>
<circle cx="1098.2" cy="792.6" r="6.10" fill="#00bf00"/>
<circle cx="1124.8" cy="805.2" r="6.10" fill="#00bf00"/>
<circle cx="1117.6" cy="813.0" r="6.10" fill="#00bf00"/>
<circle cx="1183.6" cy="781.2" r="6.10" fill="#00bf00"/>
<circle cx="1180.4" cy="784.8" r="6.10" fill="#00bf00"/>
<circle cx="1183.1" cy="798.1" r="6.10" fill="#00bf00"/>
<circle cx="1189.1" cy="825.1" r="6.10" fill="#00bf00"/>
<circle cx="1176.2" cy="851.4" r="6.10" fill="#00bf00"/>
<circle cx="1199.9" cy="856.0" r="6.10" fill="#00bf00"/>
<circle cx="1205.7" cy="755.3" r="6.10" fill="#00bf00"/>
<circle cx="1471.8" cy="836.9" r="6.10" fill="#00bf00"/>
<polygon points="233.00,1243.29 238.08,1245.58 243.17,1247.87 248.25,1250.15 253.34,1252.42 258.42,1254.69 263.51,1256.95 268.59,1259.21 273.68,1261.45 278.76,1263.69 283.85,1265.92 288.93,1268.14 294.02,1270.35 299.10,1272.55 304.19,1274.74 309.27,1276.92 314.36,1279.08 319.44,1281.23 324.53,1283.37 329.61,1285.49 334.70,1287.59 339.78,1289.67 344.87,1291.73 349.95,1293.77 355.04,1295.79 360.12,1297.78 365.21,1299.74 370.29,1301.67 375.37,1303.57 380.46,1305.43 385.54,1307.25 390.63,1309.03 395.71,1310.77 400.80,1312.46 405.88,1314.10 410.97,1315.68 416.05,1317.21 421.14,1318.67 426.22,1320.07 431.31,1321.40 436.39,1322.66 441.48,1323.85 446.56,1324.97 451.65,1326.01 456.73,1326.98 461.82,1327.87 466.90,1328.69 471.99,1329.43 477.07,1330.11 482.16,1330.71 487.24,1331.26 492.33,1331.74 497.41,1332.16 502.49,1332.52 507.58,1332.84 512.66,1333.10 517.75,1333.32 522.83,1333.50 527.92,1333.63 533.00,1333.74 538.09,1333.80 543.17,1333.84 548.26,1333.85 553.34,1333.83 558.43,1333.79 563.51,1333.72 568.60,1333.63 573.68,1333.53 578.77,1333.40 583.85,1333.26 588.94,1333.11 594.02,1332.94 599.11,1332.75 604.19,1332.56 609.28,1332.35 614.36,1332.13 619.45,1331.90 624.53,1331.66 629.62,1331.42 634.70,1331.17 634.70,1446.04 629.62,1443.79 624.53,1441.55 619.45,1439.33 614.36,1437.11 609.28,1434.90 604.19,1432.70 599.11,1430.51 594.02,1428.34 588.94,1426.18 583.85,1424.03 578.77,1421.90 573.68,1419.78 568.60,1417.69 563.51,1415.61 558.43,1413.55 553.34,1411.52 548.26,1409.51 543.17,1407.53 538.09,1405.57 533.00,1403.65 527.92,1401.76 522.83,1399.91 517.75,1398.09 512.66,1396.32 507.58,1394.60 502.49,1392.92 497.41,1391.29 492.33,1389.72 487.24,1388.21 482.16,1386.76 477.07,1385.38 471.99,1384.06 466.90,1382.82 461.82,1381.65 456.73,1380.55 451.65,1379.52 446.56,1378.58 441.48,1377.70 436.39,1376.90 431.31,1376.17 426.22,1375.51 421.14,1374.92 416.05,1374.39 410.97,1373.93 405.88,1373.52 400.80,1373.17 395.71,1372.86 390.63,1372.61 385.54,1372.40 380.46,1372.23 375.37,1372.11 370.29,1372.01 365.21,1371.95 360.12,1371.92 355.04,1371.92 349.95,1371.95 344.87,1371.99 339.78,1372.07 334.70,1372.16 329.61,1372.27 324.53,1372.40 319.44,1372.54 314.36,1372.70 309.27,1372.87 304.19,1373.06 299.10,1373.26 294.02,1373.47 288.93,1373.69 283.85,1373.92 278.76,1374.16 273.68,1374.41 268.59,1374.66 263.51,1374.93 258.42,1375.20 253.34,1375.47 248.25,1375.76 243.17,1376.04 238.08,1376.34 233.00,1376.64" fill="#d4d4d4"/>
<polyline points="233.00,1243.29 238.08,1245.58 243.17,1247.87 248.25,1250.15 253.34,1252.42 258.42,1254.69 263.51,1256.95 268.59,1259.21 273.68,1261.45 278.76,1263.69 283.85,1265.92 288.93,1268.14 294.02,1270.35 299.10,1272.55 304.19,1274.74 309.27,1276.92 314.36,1279.08 319.44,1281.23 324.53,1283.37 329.61,1285.49 334.70,1287.59 339.78,1289.67 344.87,1291.73 349.95,1293.77 355.04,1295.79 360.12,1297.78 365.21,1299.74 370.29,1301.67 375.37,1303.57 380.46,1305.43 385.54,1307.25 390.63,1309.03 395.71,1310.77 400.80,1312.46 405.88,1314.10 410.97,1315.68 416.05,1317.21 421.14,1318.67 426.22,1320.07 431.31,1321.40 436.39,1322.66 441.48,1323.85 446.56,1324.97 451.65,1326.01 456.73,1326.98 461.82,1327.87 466.90,1328.69 471.99,1329.43 477.07,1330.11 482.16,1330.71 487.24,1331.26 492.33,1331.74 497.41,1332.16 502.49,1332.52 507.58,1332.84 512.66,1333.10 517.75,1333.32 522.83,1333.50 527.92,1333.63 533.00,1333.74 538.09,1333.80 543.17,1333.84 548.26,1333.85 553.34,1333.83 558.43,1333.79 563.51,1333.72 568.60,1333.63 573.68,1333.53 578.77,1333.40 583.85,1333.26 588.94,1333.11 594.02,1332.94 599.11,1332.75 604.19,1332.56 609.28,1332.35 614.36,1332.13 619.45,1331.90 624.53,1331.66 629.62,1331.42 634.70,1331.17" fill="none" stroke="#000" stroke-width="2.1" stroke-dasharray="6.4 6.4"/>
<polyline points="233.00,1376.64 238.08,1376.34 243.17,1376.04 248.25,1375.76 253.34,1375.47 258.42,1375.20 263.51,1374.93 268.59,1374.66 273.68,1374.41 278.76,1374.16 283.85,1373.92 288.93,1373.69 294.02,1373.47 299.10,1373.26 304.19,1373.06 309.27,1372.87 314.36,1372.70 319.44,1372.54 324.53,1372.40 329.61,1372.27 334.70,1372.16 339.78,1372.07 344.87,1371.99 349.95,1371.95 355.04,1371.92 360.12,1371.92 365.21,1371.95 370.29,1372.01 375.37,1372.11 380.46,1372.23 385.54,1372.40 390.63,1372.61 395.71,1372.86 400.80,1373.17 405.88,1373.52 410.97,1373.93 416.05,1374.39 421.14,1374.92 426.22,1375.51 431.31,1376.17 436.39,1376.90 441.48,1377.70 446.56,1378.58 451.65,1379.52 456.73,1380.55 461.82,1381.65 466.90,1382.82 471.99,1384.06 477.07,1385.38 482.16,1386.76 487.24,1388.21 492.33,1389.72 497.41,1391.29 502.49,1392.92 507.58,1394.60 512.66,1396.32 517.75,1398.09 522.83,1399.91 527.92,1401.76 533.00,1403.65 538.09,1405.57 543.17,1407.53 548.26,1409.51 553.34,1411.52 558.43,1413.55 563.51,1415.61 568.60,1417.69 573.68,1419.78 578.77,1421.90 583.85,1424.03 588.94,1426.18 594.02,1428.34 599.11,1430.51 604.19,1432.70 609.28,1434.90 614.36,1437.11 619.45,1439.33 624.53,1441.55 629.62,1443.79 634.70,1446.04" fill="none" stroke="#000" stroke-width="2.1" stroke-dasharray="6.4 6.4"/>
<line x1="233.00" y1="1309.97" x2="634.70" y2="1388.60" stroke="#000" stroke-width="2.0"/>
<circle cx="233.0" cy="1273.5" r="6.10" fill="#00bf00"/>
<circle cx="417.0" cy="1325.0" r="6.10" fill="#00bf00"/>
<circle cx="462.3" cy="1332.8" r="6.10" fill="#00bf00"/>
<circle cx="344.9" cy="1352.1" r="6.10" fill="#00bf00"/>
<circle cx="403.8" cy="1375.9" r="6.10" fill="#00bf00"/>
<circle cx="426.8" cy="1415.0" r="6.10" fill="#00bf00"/>
<circle cx="515.8" cy="1288.9" r="6.10" fill="#00bf00"/>
<circle cx="507.8" cy="1339.1" r="6.10" fill="#00bf00"/>
<circle cx="501.5" cy="1348.8" r="6.10" fill="#00bf00"/>
<circle cx="465.5" cy="1385.1" r="6.10" fill="#00bf00"/>
<circle cx="513.8" cy="1404.1" r="6.10" fill="#00bf00"/>
<circle cx="634.7" cy="1394.3" r="6.10" fill="#00bf00"/>
<polygon points="997.70,1200.51 1003.69,1203.28 1009.68,1206.04 1015.68,1208.78 1021.67,1211.51 1027.66,1214.22 1033.65,1216.91 1039.65,1219.59 1045.64,1222.24 1051.63,1224.87 1057.62,1227.47 1063.62,1230.05 1069.61,1232.60 1075.60,1235.11 1081.59,1237.60 1087.59,1240.04 1093.58,1242.44 1099.57,1244.79 1105.56,1247.10 1111.56,1249.36 1117.55,1251.55 1123.54,1253.69 1129.53,1255.75 1135.53,1257.75 1141.52,1259.67 1147.51,1261.51 1153.50,1263.27 1159.49,1264.94 1165.49,1266.52 1171.48,1268.01 1177.47,1269.41 1183.46,1270.71 1189.46,1271.92 1195.45,1273.04 1201.44,1274.07 1207.43,1275.01 1213.43,1275.87 1219.42,1276.65 1225.41,1277.36 1231.40,1278.00 1237.40,1278.57 1243.39,1279.08 1249.38,1279.54 1255.37,1279.94 1261.37,1280.29 1267.36,1280.61 1273.35,1280.88 1279.34,1281.11 1285.34,1281.31 1291.33,1281.47 1297.32,1281.61 1303.31,1281.72 1309.31,1281.81 1315.30,1281.87 1321.29,1281.92 1327.28,1281.94 1333.27,1281.95 1339.27,1281.94 1345.26,1281.92 1351.25,1281.88 1357.24,1281.83 1363.24,1281.77 1369.23,1281.69 1375.22,1281.61 1381.21,1281.51 1387.21,1281.41 1393.20,1281.30 1399.19,1281.18 1405.18,1281.05 1411.18,1280.92 1417.17,1280.78 1423.16,1280.64 1429.15,1280.49 1435.15,1280.33 1441.14,1280.17 1447.13,1280.00 1453.12,1279.83 1459.12,1279.66 1465.11,1279.48 1471.10,1279.29 1471.10,1450.59 1465.11,1447.69 1459.12,1444.78 1453.12,1441.89 1447.13,1438.99 1441.14,1436.10 1435.15,1433.22 1429.15,1430.34 1423.16,1427.47 1417.17,1424.60 1411.18,1421.74 1405.18,1418.88 1399.19,1416.03 1393.20,1413.19 1387.21,1410.36 1381.21,1407.53 1375.22,1404.71 1369.23,1401.91 1363.24,1399.11 1357.24,1396.32 1351.25,1393.55 1345.26,1390.79 1339.27,1388.04 1333.27,1385.31 1327.28,1382.60 1321.29,1379.90 1315.30,1377.22 1309.31,1374.56 1303.31,1371.92 1297.32,1369.31 1291.33,1366.73 1285.34,1364.17 1279.34,1361.65 1273.35,1359.16 1267.36,1356.70 1261.37,1354.29 1255.37,1351.92 1249.38,1349.60 1243.39,1347.34 1237.40,1345.13 1231.40,1342.97 1225.41,1340.89 1219.42,1338.87 1213.43,1336.93 1207.43,1335.07 1201.44,1333.29 1195.45,1331.60 1189.46,1329.99 1183.46,1328.48 1177.47,1327.06 1171.48,1325.73 1165.49,1324.50 1159.49,1323.36 1153.50,1322.31 1147.51,1321.34 1141.52,1320.46 1135.53,1319.66 1129.53,1318.93 1123.54,1318.28 1117.55,1317.69 1111.56,1317.16 1105.56,1316.69 1099.57,1316.28 1093.58,1315.91 1087.59,1315.59 1081.59,1315.31 1075.60,1315.06 1069.61,1314.86 1063.62,1314.68 1057.62,1314.54 1051.63,1314.42 1045.64,1314.33 1039.65,1314.26 1033.65,1314.21 1027.66,1314.18 1021.67,1314.17 1015.68,1314.17 1009.68,1314.19 1003.69,1314.23 997.70,1314.27" fill="#d4d4d4"/>
<polyline points="997.70,1200.51 1003.69,1203.28 1009.68,1206.04 1015.68,1208.78 1021.67,1211.51 1027.66,1214.22 1033.65,1216.91 1039.65,1219.59 1045.64,1222.24 1051.63,1224.87 1057.62,1227.47 1063.62,1230.05 1069.61,1232.60 1075.60,1235.11 1081.59,1237.60 1087.59,1240.04 1093.58,1242.44 1099.57,1244.79 1105.56,1247.10 1111.56,1249.36 1117.55,1251.55 1123.54,1253.69 1129.53,1255.75 1135.53,1257.75 1141.52,1259.67 1147.51,1261.51 1153.50,1263.27 1159.49,1264.94 1165.49,1266.52 1171.48,1268.01 1177.47,1269.41 1183.46,1270.71 1189.46,1271.92 1195.45,1273.04 1201.44,1274.07 1207.43,1275.01 1213.43,1275.87 1219.42,1276.65 1225.41,1277.36 1231.40,1278.00 1237.40,1278.57 1243.39,1279.08 1249.38,1279.54 1255.37,1279.94 1261.37,1280.29 1267.36,1280.61 1273.35,1280.88 1279.34,1281.11 1285.34,1281.31 1291.33,1281.47 1297.32,1281.61 1303.31,1281.72 1309.31,1281.81 1315.30,1281.87 1321.29,1281.92 1327.28,1281.94 1333.27,1281.95 1339.27,1281.94 1345.26,1281.92 1351.25,1281.88 1357.24,1281.83 1363.24,1281.77 1369.23,1281.69 1375.22,1281.61 1381.21,1281.51 1387.21,1281.41 1393.20,1281.30 1399.19,1281.18 1405.18,1281.05 1411.18,1280.92 1417.17,1280.78 1423.16,1280.64 1429.15,1280.49 1435.15,1280.33 1441.14,1280.17 1447.13,1280.00 1453.12,1279.83 1459.12,1279.66 1465.11,1279.48 1471.10,1279.29" fill="none" stroke="#000" stroke-width="2.1" stroke-dasharray="6.4 6.4"/>
<polyline points="997.70,1314.27 1003.69,1314.23 1009.68,1314.19 1015.68,1314.17 1021.67,1314.17 1027.66,1314.18 1033.65,1314.21 1039.65,1314.26 1045.64,1314.33 1051.63,1314.42 1057.62,1314.54 1063.62,1314.68 1069.61,1314.86 1075.60,1315.06 1081.59,1315.31 1087.59,1315.59 1093.58,1315.91 1099.57,1316.28 1105.56,1316.69 1111.56,1317.16 1117.55,1317.69 1123.54,1318.28 1129.53,1318.93 1135.53,1319.66 1141.52,1320.46 1147.51,1321.34 1153.50,1322.31 1159.49,1323.36 1165.49,1324.50 1171.48,1325.73 1177.47,1327.06 1183.46,1328.48 1189.46,1329.99 1195.45,1331.60 1201.44,1333.29 1207.43,1335.07 1213.43,1336.93 1219.42,1338.87 1225.41,1340.89 1231.40,1342.97 1237.40,1345.13 1243.39,1347.34 1249.38,1349.60 1255.37,1351.92 1261.37,1354.29 1267.36,1356.70 1273.35,1359.16 1279.34,1361.65 1285.34,1364.17 1291.33,1366.73 1297.32,1369.31 1303.31,1371.92 1309.31,1374.56 1315.30,1377.22 1321.29,1379.90 1327.28,1382.60 1333.27,1385.31 1339.27,1388.04 1345.26,1390.79 1351.25,1393.55 1357.24,1396.32 1363.24,1399.11 1369.23,1401.91 1375.22,1404.71 1381.21,1407.53 1387.21,1410.36 1393.20,1413.19 1399.19,1416.03 1405.18,1418.88 1411.18,1421.74 1417.17,1424.60 1423.16,1427.47 1429.15,1430.34 1435.15,1433.22 1441.14,1436.10 1447.13,1438.99 1453.12,1441.89 1459.12,1444.78 1465.11,1447.69 1471.10,1450.59" fill="none" stroke="#000" stroke-width="2.1" stroke-dasharray="6.4 6.4"/>
<line x1="997.70" y1="1257.39" x2="1471.10" y2="1364.94" stroke="#000" stroke-width="2.0"/>
<circle cx="997.7" cy="1203.8" r="6.10" fill="#00bf00"/>
<circle cx="1097.5" cy="1284.7" r="6.10" fill="#00bf00"/>
<circle cx="1124.1" cy="1301.5" r="6.10" fill="#00bf00"/>
<circle cx="1116.9" cy="1311.9" r="6.10" fill="#00bf00"/>
<circle cx="1182.9" cy="1269.5" r="6.10" fill="#00bf00"/>
<circle cx="1179.7" cy="1274.3" r="6.10" fill="#00bf00"/>
<circle cx="1182.4" cy="1292.0" r="6.10" fill="#00bf00"/>
<circle cx="1188.4" cy="1328.0" r="6.10" fill="#00bf00"/>
<circle cx="1175.5" cy="1363.1" r="6.10" fill="#00bf00"/>
<circle cx="1199.2" cy="1369.2" r="6.10" fill="#00bf00"/>
<circle cx="1205.0" cy="1235.0" r="6.10" fill="#00bf00"/>
<circle cx="1471.1" cy="1343.7" r="6.10" fill="#00bf00"/>
<g font-family='"Liberation Sans", Arial, Helvetica, sans-serif' fill="#000" stroke="#fff" stroke-width="0.3" text-rendering="geometricPrecision">
<text transform="translate(100.60,433.10) scale(1.2649,1)" font-size="23">0</text>
<text transform="translate(50.12,360.06) scale(1.1575,1)" font-size="23">0.002</text>
<text transform="translate(48.60,282.82) scale(1.1775,1)" font-size="23">0.004</text>
<text transform="translate(48.59,205.58) scale(1.1831,1)" font-size="23">0.006</text>
<text transform="translate(49.41,128.34) scale(1.1683,1)" font-size="23">0.008</text>
<text transform="translate(53.49,51.10) scale(1.0945,1)" font-size="23">0.010</text>
<text transform="translate(133.44,472.50) scale(1.2745,1)" font-size="23">0</text>
<text transform="translate(267.60,472.50) scale(1.1312,1)" font-size="23">0.5</text>
<text transform="translate(413.08,472.50) scale(1.0160,1)" font-size="23">1.0</text>
<text transform="translate(557.92,472.50) scale(0.9943,1)" font-size="23">1.5</text>
<text transform="translate(701.04,472.50) scale(1.1138,1)" font-size="23">2.0</text>
<text transform="translate(282.38,517.70) scale(1.0006,1)" font-size="27">Brain MTBR-tau</text>
<text transform="translate(475.50,526.00) scale(1.0094,1)" font-size="19">275</text>
<text transform="translate(507.80,521.70) scale(1.0380,1)" font-size="34">/</text>
<text transform="translate(518.31,517.70) scale(1.0878,1)" font-size="27">t-tau</text>
<text transform="translate(23.30,378.49) rotate(-90) scale(0.9775,1)" font-size="27">CSF MTBR-tau</text>
<text transform="translate(31.70,197.92) rotate(-90) scale(0.9480,1)" font-size="19">275</text>
<text transform="translate(26.70,166.43) rotate(-90) scale(1.0957,1)" font-size="34">/</text>
<text transform="translate(23.30,155.69) rotate(-90) scale(1.0858,1)" font-size="27">t-tau</text>
<text transform="translate(885.80,437.30) scale(1.2649,1)" font-size="23">0</text>
<text transform="translate(835.12,340.75) scale(1.1591,1)" font-size="23">0.005</text>
<text transform="translate(838.69,244.20) scale(1.0945,1)" font-size="23">0.010</text>
<text transform="translate(841.54,147.65) scale(1.0450,1)" font-size="23">0.015</text>
<text transform="translate(835.53,51.10) scale(1.1506,1)" font-size="23">0.020</text>
<text transform="translate(917.44,472.50) scale(1.2745,1)" font-size="23">0</text>
<text transform="translate(1063.80,472.50) scale(1.0010,1)" font-size="23">1</text>
<text transform="translate(1207.09,472.50) scale(1.2770,1)" font-size="23">2</text>
<text transform="translate(1352.39,472.50) scale(1.2274,1)" font-size="23">3</text>
<text transform="translate(1497.51,472.50) scale(1.1867,1)" font-size="23">4</text>
<text transform="translate(1066.88,517.70) scale(1.0011,1)" font-size="27">Brain MTBR-tau</text>
<text transform="translate(1260.25,526.00) scale(1.0444,1)" font-size="19">282</text>
<text transform="translate(1292.35,521.70) scale(1.1303,1)" font-size="34">/</text>
<text transform="translate(1304.11,517.70) scale(1.0897,1)" font-size="27">t-tau</text>
<text transform="translate(814.70,378.79) rotate(-90) scale(0.9769,1)" font-size="27">CSF MTBR-tau</text>
<text transform="translate(822.70,199.17) rotate(-90) scale(1.0582,1)" font-size="19">282</text>
<text transform="translate(818.20,166.03) rotate(-90) scale(1.0841,1)" font-size="34">/</text>
<text transform="translate(814.70,155.30) rotate(-90) scale(1.1013,1)" font-size="27">t-tau</text>
<text transform="translate(100.60,997.30) scale(1.2649,1)" font-size="23">0</text>
<text transform="translate(50.12,920.08) scale(1.1575,1)" font-size="23">0.002</text>
<text transform="translate(48.60,842.86) scale(1.1775,1)" font-size="23">0.004</text>
<text transform="translate(48.59,765.64) scale(1.1831,1)" font-size="23">0.006</text>
<text transform="translate(49.41,688.42) scale(1.1683,1)" font-size="23">0.008</text>
<text transform="translate(53.49,611.20) scale(1.0945,1)" font-size="23">0.010</text>
<text transform="translate(132.24,1032.50) scale(1.2745,1)" font-size="23">0</text>
<text transform="translate(267.60,1032.50) scale(1.1312,1)" font-size="23">0.5</text>
<text transform="translate(413.08,1032.50) scale(1.0160,1)" font-size="23">1.0</text>
<text transform="translate(557.92,1032.50) scale(0.9943,1)" font-size="23">1.5</text>
<text transform="translate(701.04,1032.50) scale(1.1138,1)" font-size="23">2.0</text>
<text transform="translate(282.38,1077.70) scale(1.0006,1)" font-size="27">Brain MTBR-tau</text>
<text transform="translate(475.50,1086.00) scale(1.0094,1)" font-size="19">275</text>
<text transform="translate(507.80,1081.70) scale(1.0380,1)" font-size="34">/</text>
<text transform="translate(518.31,1077.70) scale(1.0878,1)" font-size="27">t-tau</text>
<text transform="translate(23.30,938.59) rotate(-90) scale(0.9775,1)" font-size="27">CSF MTBR-tau</text>
<text transform="translate(31.70,758.02) rotate(-90) scale(0.9480,1)" font-size="19">275</text>
<text transform="translate(26.70,726.53) rotate(-90) scale(1.0957,1)" font-size="34">/</text>
<text transform="translate(23.30,715.79) rotate(-90) scale(1.0858,1)" font-size="27">t-tau</text>
<text transform="translate(886.50,997.30) scale(1.2649,1)" font-size="23">0</text>
<text transform="translate(835.82,900.77) scale(1.1591,1)" font-size="23">0.005</text>
<text transform="translate(839.39,804.25) scale(1.0945,1)" font-size="23">0.010</text>
<text transform="translate(842.24,707.72) scale(1.0450,1)" font-size="23">0.015</text>
<text transform="translate(836.23,611.20) scale(1.1506,1)" font-size="23">0.020</text>
<text transform="translate(918.54,1032.50) scale(1.2745,1)" font-size="23">0</text>
<text transform="translate(1064.50,1032.50) scale(1.0010,1)" font-size="23">1</text>
<text transform="translate(1207.79,1032.50) scale(1.2770,1)" font-size="23">2</text>
<text transform="translate(1353.09,1032.50) scale(1.2274,1)" font-size="23">3</text>
<text transform="translate(1498.21,1032.50) scale(1.1867,1)" font-size="23">4</text>
<text transform="translate(1066.88,1077.70) scale(1.0011,1)" font-size="27">Brain MTBR-tau</text>
<text transform="translate(1260.25,1086.00) scale(1.0444,1)" font-size="19">282</text>
<text transform="translate(1292.35,1081.70) scale(1.1303,1)" font-size="34">/</text>
<text transform="translate(1304.11,1077.70) scale(1.0897,1)" font-size="27">t-tau</text>
<text transform="translate(814.70,938.89) rotate(-90) scale(0.9769,1)" font-size="27">CSF MTBR-tau</text>
<text transform="translate(822.70,759.27) rotate(-90) scale(1.0582,1)" font-size="19">282</text>
<text transform="translate(818.20,726.13) rotate(-90) scale(1.0841,1)" font-size="34">/</text>
<text transform="translate(814.70,715.40) rotate(-90) scale(1.1013,1)" font-size="27">t-tau</text>
<text transform="translate(100.30,1555.80) scale(1.2649,1)" font-size="23">0</text>
<text transform="translate(49.82,1478.46) scale(1.1575,1)" font-size="23">0.002</text>
<text transform="translate(48.30,1401.12) scale(1.1775,1)" font-size="23">0.004</text>
<text transform="translate(48.29,1323.78) scale(1.1831,1)" font-size="23">0.006</text>
<text transform="translate(49.11,1246.44) scale(1.1683,1)" font-size="23">0.008</text>
<text transform="translate(53.19,1169.10) scale(1.0945,1)" font-size="23">0.010</text>
<text transform="translate(131.94,1591.00) scale(1.2745,1)" font-size="23">0</text>
<text transform="translate(267.30,1591.00) scale(1.1312,1)" font-size="23">0.5</text>
<text transform="translate(412.78,1591.00) scale(1.0160,1)" font-size="23">1.0</text>
<text transform="translate(557.62,1591.00) scale(0.9943,1)" font-size="23">1.5</text>
<text transform="translate(700.74,1591.00) scale(1.1138,1)" font-size="23">2.0</text>
<text transform="translate(282.38,1636.20) scale(1.0006,1)" font-size="27">Brain MTBR-tau</text>
<text transform="translate(475.50,1644.50) scale(1.0094,1)" font-size="19">275</text>
<text transform="translate(507.80,1640.20) scale(1.0380,1)" font-size="34">/</text>
<text transform="translate(518.31,1636.20) scale(1.0878,1)" font-size="27">t-tau</text>
<text transform="translate(23.30,1496.49) rotate(-90) scale(0.9775,1)" font-size="27">CSF MTBR-tau</text>
<text transform="translate(31.70,1315.92) rotate(-90) scale(0.9480,1)" font-size="19">275</text>
<text transform="translate(26.70,1284.43) rotate(-90) scale(1.0957,1)" font-size="34">/</text>
<text transform="translate(23.30,1273.69) rotate(-90) scale(1.0858,1)" font-size="27">t-tau</text>
<text transform="translate(885.80,1555.80) scale(1.2649,1)" font-size="23">0</text>
<text transform="translate(835.12,1426.97) scale(1.1591,1)" font-size="23">0.005</text>
<text transform="translate(838.69,1298.13) scale(1.0945,1)" font-size="23">0.010</text>
<text transform="translate(841.54,1169.30) scale(1.0450,1)" font-size="23">0.015</text>
<text transform="translate(917.44,1591.00) scale(1.2745,1)" font-size="23">0</text>
<text transform="translate(1063.80,1591.00) scale(1.0010,1)" font-size="23">1</text>
<text transform="translate(1207.09,1591.00) scale(1.2770,1)" font-size="23">2</text>
<text transform="translate(1352.39,1591.00) scale(1.2274,1)" font-size="23">3</text>
<text transform="translate(1497.51,1591.00) scale(1.1867,1)" font-size="23">4</text>
<text transform="translate(1066.88,1636.20) scale(1.0011,1)" font-size="27">Brain MTBR-tau</text>
<text transform="translate(1260.25,1644.50) scale(1.0444,1)" font-size="19">282</text>
<text transform="translate(1292.35,1640.20) scale(1.1303,1)" font-size="34">/</text>
<text transform="translate(1304.11,1636.20) scale(1.0897,1)" font-size="27">t-tau</text>
<text transform="translate(814.70,1496.79) rotate(-90) scale(0.9769,1)" font-size="27">CSF MTBR-tau</text>
<text transform="translate(822.70,1317.17) rotate(-90) scale(1.0582,1)" font-size="19">282</text>
<text transform="translate(818.20,1284.03) rotate(-90) scale(1.0841,1)" font-size="34">/</text>
<text transform="translate(814.70,1273.30) rotate(-90) scale(1.1013,1)" font-size="27">t-tau</text>
<text transform="translate(167.34,364.80) scale(1.0024,1)" font-size="28"><tspan font-style="italic">r</tspan> = –0.2689</text>
<text transform="translate(166.98,403.20) scale(1.0079,1)" font-size="28"><tspan font-style="italic">P</tspan> = 0.0493</text>
<text transform="translate(949.32,364.80) scale(1.0213,1)" font-size="28"><tspan font-style="italic">r</tspan> = –0.4504</text>
<text transform="translate(949.04,403.20) scale(1.0401,1)" font-size="28"><tspan font-style="italic">P</tspan> = 0.0006</text>
<text transform="translate(167.36,924.80) scale(0.9791,1)" font-size="28"><tspan font-style="italic">r</tspan> = –0.6108</text>
<text transform="translate(166.94,963.20) scale(1.0380,1)" font-size="28"><tspan font-style="italic">P</tspan> = 0.0004</text>
<text transform="translate(949.56,924.60) scale(0.9726,1)" font-size="28"><tspan font-style="italic">r</tspan> = –0.7537</text>
<text transform="translate(948.94,962.80) scale(0.9671,1)" font-size="28"><tspan font-style="italic">P</tspan> = &lt;0.0001</text>
<text transform="translate(167.39,1482.90) scale(0.9393,1)" font-size="28"><tspan font-style="italic">r</tspan> &#160;= –0.2517</text>
<text transform="translate(166.98,1521.80) scale(1.0079,1)" font-size="28"><tspan font-style="italic">P</tspan> = 0.4303</text>
<text transform="translate(949.35,1482.90) scale(0.9918,1)" font-size="28"><tspan font-style="italic">r</tspan> = –0.3077</text>
<text transform="translate(949.15,1521.80) scale(0.9624,1)" font-size="28"><tspan font-style="italic">P</tspan> = 0.3310</text>
<text transform="translate(-1.56,29.80) scale(1.0166,1)" font-size="41" font-weight="bold">a</text>
<text transform="translate(789.27,29.60) scale(1.1745,1)" font-size="41" font-weight="bold">b</text>
<text transform="translate(-1.23,583.50) scale(1.0933,1)" font-size="41" font-weight="bold">c</text>
<text transform="translate(789.92,583.30) scale(1.1441,1)" font-size="41" font-weight="bold">d</text>
<text transform="translate(-1.30,1149.50) scale(1.1304,1)" font-size="41" font-weight="bold">e</text>
<text transform="translate(792.78,1149.70) scale(1.0121,1)" font-size="41" font-weight="bold">f</text>
<text transform="translate(1524.20,47.80) scale(1.1044,1)" font-size="27">All cohort</text>
<text transform="translate(1553.34,98.80) scale(1.0896,1)" font-size="27.5">Normal control</text>
<text transform="translate(1553.75,132.70) scale(0.9302,1)" font-size="27.5">FTLD-TDP</text>
<text transform="translate(1553.67,166.60) scale(0.9607,1)" font-size="27.5">PiD</text>
<text transform="translate(1554.78,200.50) scale(0.9682,1)" font-size="27.5">AGD</text>
<text transform="translate(1553.80,234.20) scale(0.9090,1)" font-size="27.5">PSP</text>
<text transform="translate(1553.81,268.40) scale(0.9738,1)" font-size="27.5">CBD</text>
<text transform="translate(1554.79,302.00) scale(0.9655,1)" font-size="27.5">AD</text>
<text transform="translate(1553.74,335.90) scale(0.9321,1)" font-size="27.5">FTLD-<tspan font-style="italic">MAPT</tspan></text>
<text transform="translate(1526.20,598.20) scale(1.0491,1)" font-size="27">4R tauopathies</text>
<text transform="translate(1555.49,656.00) scale(0.9560,1)" font-size="27.5">AGD</text>
<text transform="translate(1553.80,688.10) scale(0.9090,1)" font-size="27.5">PSP</text>
<text transform="translate(1554.32,722.30) scale(0.9647,1)" font-size="27.5">CBD</text>
<text transform="translate(1564.80,1195.30) scale(1.0019,1)" font-size="29">CBD</text>
</g>
<ellipse cx="1529" cy="89.9" rx="6.9" ry="6.6" fill="none" stroke="#000" stroke-width="1.6"/>
<ellipse cx="1529" cy="120.8" rx="6.9" ry="6.6" fill="none" stroke="#843c0c" stroke-width="1.6"/>
<ellipse cx="1529" cy="157.0" rx="6.9" ry="6.2" fill="#0000ff"/>
<ellipse cx="1529" cy="190.6" rx="6.9" ry="6.2" fill="#ed7d31"/>
<ellipse cx="1529" cy="228.3" rx="6.9" ry="6.2" fill="#a40ee6"/>
<ellipse cx="1529" cy="260.2" rx="6.9" ry="6.2" fill="#00b050"/>
<ellipse cx="1529" cy="295.1" rx="6.9" ry="6.2" fill="#ff0000"/>
<ellipse cx="1529" cy="327.4" rx="6.9" ry="6.2" fill="#000"/>
<ellipse cx="1528.3" cy="644.9" rx="6.8" ry="6.4" fill="#ed7d31"/>
<ellipse cx="1528.3" cy="681.9" rx="6.8" ry="6.4" fill="#a40ee6"/>
<ellipse cx="1528.3" cy="713.8" rx="6.8" ry="6.4" fill="#00b050"/>
<circle cx="1536.2" cy="1187.6" r="6.2" fill="#00bf00"/>
</svg>
</body></html>
